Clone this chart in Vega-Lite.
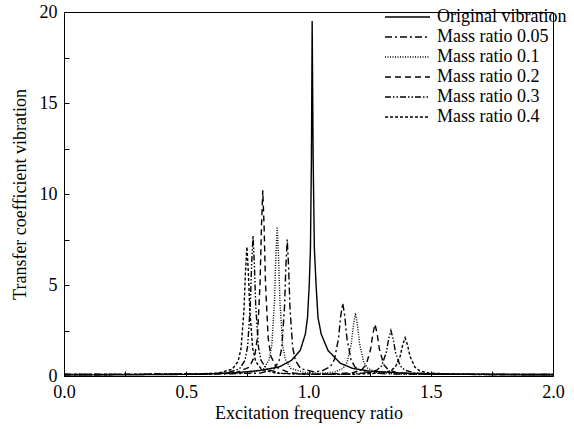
{
  "$schema": "https://vega.github.io/schema/vega-lite/v6.json",
  "width": 489,
  "height": 364,
  "autosize": {"type": "none"},
  "padding": {"left": 64, "top": 12, "right": 21, "bottom": 53},
  "background": "white",
  "config": {"view": {"stroke": "black", "strokeWidth": 1}, "font": "Liberation Serif"},
  "data": {"values": [
    {"s":"Original vibration","x":0,"y":0.06},{"s":"Original vibration","x":0.3,"y":0.07},{"s":"Original vibration","x":0.5,"y":0.09},{"s":"Original vibration","x":0.6,"y":0.12},{"s":"Original vibration","x":0.7,"y":0.18},{"s":"Original vibration","x":0.8,"y":0.3},{"s":"Original vibration","x":0.88,"y":0.5},{"s":"Original vibration","x":0.93,"y":0.85},{"s":"Original vibration","x":0.966,"y":1.4},{"s":"Original vibration","x":0.987,"y":2.3},{"s":"Original vibration","x":0.996,"y":3.2},{"s":"Original vibration","x":1.003,"y":5.0},{"s":"Original vibration","x":1.008,"y":7.0},{"s":"Original vibration","x":1.012,"y":12},{"s":"Original vibration","x":1.015,"y":19.5},{"s":"Original vibration","x":1.019,"y":12},{"s":"Original vibration","x":1.024,"y":7.0},{"s":"Original vibration","x":1.031,"y":5.0},{"s":"Original vibration","x":1.039,"y":3.2},{"s":"Original vibration","x":1.052,"y":2.3},{"s":"Original vibration","x":1.08,"y":1.4},{"s":"Original vibration","x":1.13,"y":0.7},{"s":"Original vibration","x":1.18,"y":0.42},{"s":"Original vibration","x":1.25,"y":0.27},{"s":"Original vibration","x":1.4,"y":0.15},{"s":"Original vibration","x":1.6,"y":0.1},{"s":"Original vibration","x":2.0,"y":0.06},

    {"s":"Mass ratio 0.05","x":0,"y":0.08},{"s":"Mass ratio 0.05","x":0.3,"y":0.09},{"s":"Mass ratio 0.05","x":0.5,"y":0.1},{"s":"Mass ratio 0.05","x":0.65,"y":0.12},{"s":"Mass ratio 0.05","x":0.803,"y":0.16},{"s":"Mass ratio 0.05","x":0.858,"y":0.38},{"s":"Mass ratio 0.05","x":0.88,"y":0.84},{"s":"Mass ratio 0.05","x":0.891,"y":1.58},{"s":"Mass ratio 0.05","x":0.902,"y":3.82},{"s":"Mass ratio 0.05","x":0.9075,"y":6.05},{"s":"Mass ratio 0.05","x":0.913,"y":7.5},{"s":"Mass ratio 0.05","x":0.9185,"y":6.05},{"s":"Mass ratio 0.05","x":0.924,"y":3.82},{"s":"Mass ratio 0.05","x":0.935,"y":1.6},{"s":"Mass ratio 0.05","x":0.946,"y":0.87},{"s":"Mass ratio 0.05","x":0.968,"y":0.4},{"s":"Mass ratio 0.05","x":1.023,"y":0.23},{"s":"Mass ratio 0.05","x":1.055,"y":0.28},{"s":"Mass ratio 0.05","x":1.089,"y":0.51},{"s":"Mass ratio 0.05","x":1.106,"y":0.9},{"s":"Mass ratio 0.05","x":1.123,"y":2.08},{"s":"Mass ratio 0.05","x":1.1315,"y":3.28},{"s":"Mass ratio 0.05","x":1.14,"y":4.0},{"s":"Mass ratio 0.05","x":1.1485,"y":3.28},{"s":"Mass ratio 0.05","x":1.157,"y":2.08},{"s":"Mass ratio 0.05","x":1.174,"y":0.88},{"s":"Mass ratio 0.05","x":1.191,"y":0.48},{"s":"Mass ratio 0.05","x":1.225,"y":0.23},{"s":"Mass ratio 0.05","x":1.31,"y":0.12},{"s":"Mass ratio 0.05","x":1.5,"y":0.09},{"s":"Mass ratio 0.05","x":2.0,"y":0.08},

    {"s":"Mass ratio 0.1","x":0,"y":0.08},{"s":"Mass ratio 0.1","x":0.3,"y":0.09},{"s":"Mass ratio 0.1","x":0.5,"y":0.1},{"s":"Mass ratio 0.1","x":0.65,"y":0.12},{"s":"Mass ratio 0.1","x":0.762,"y":0.16},{"s":"Mass ratio 0.1","x":0.817,"y":0.4},{"s":"Mass ratio 0.1","x":0.839,"y":0.9},{"s":"Mass ratio 0.1","x":0.85,"y":1.7},{"s":"Mass ratio 0.1","x":0.861,"y":4.15},{"s":"Mass ratio 0.1","x":0.8665,"y":6.58},{"s":"Mass ratio 0.1","x":0.872,"y":8.2},{"s":"Mass ratio 0.1","x":0.8775,"y":6.58},{"s":"Mass ratio 0.1","x":0.883,"y":4.15},{"s":"Mass ratio 0.1","x":0.894,"y":1.72},{"s":"Mass ratio 0.1","x":0.905,"y":0.91},{"s":"Mass ratio 0.1","x":0.927,"y":0.42},{"s":"Mass ratio 0.1","x":0.982,"y":0.2},{"s":"Mass ratio 0.1","x":1.04,"y":0.14},{"s":"Mass ratio 0.1","x":1.107,"y":0.21},{"s":"Mass ratio 0.1","x":1.141,"y":0.42},{"s":"Mass ratio 0.1","x":1.158,"y":0.75},{"s":"Mass ratio 0.1","x":1.175,"y":1.77},{"s":"Mass ratio 0.1","x":1.1835,"y":2.78},{"s":"Mass ratio 0.1","x":1.192,"y":3.45},{"s":"Mass ratio 0.1","x":1.2005,"y":2.78},{"s":"Mass ratio 0.1","x":1.209,"y":1.77},{"s":"Mass ratio 0.1","x":1.226,"y":0.75},{"s":"Mass ratio 0.1","x":1.243,"y":0.42},{"s":"Mass ratio 0.1","x":1.277,"y":0.21},{"s":"Mass ratio 0.1","x":1.362,"y":0.11},{"s":"Mass ratio 0.1","x":1.5,"y":0.09},{"s":"Mass ratio 0.1","x":2.0,"y":0.08},

    {"s":"Mass ratio 0.2","x":0,"y":0.08},{"s":"Mass ratio 0.2","x":0.3,"y":0.09},{"s":"Mass ratio 0.2","x":0.5,"y":0.1},{"s":"Mass ratio 0.2","x":0.62,"y":0.12},{"s":"Mass ratio 0.2","x":0.703,"y":0.18},{"s":"Mass ratio 0.2","x":0.758,"y":0.48},{"s":"Mass ratio 0.2","x":0.78,"y":1.1},{"s":"Mass ratio 0.2","x":0.791,"y":2.1},{"s":"Mass ratio 0.2","x":0.802,"y":5.15},{"s":"Mass ratio 0.2","x":0.8075,"y":8.18},{"s":"Mass ratio 0.2","x":0.813,"y":10.2},{"s":"Mass ratio 0.2","x":0.8185,"y":8.18},{"s":"Mass ratio 0.2","x":0.824,"y":5.15},{"s":"Mass ratio 0.2","x":0.835,"y":2.1},{"s":"Mass ratio 0.2","x":0.846,"y":1.1},{"s":"Mass ratio 0.2","x":0.868,"y":0.48},{"s":"Mass ratio 0.2","x":0.923,"y":0.18},{"s":"Mass ratio 0.2","x":1.0,"y":0.1},{"s":"Mass ratio 0.2","x":1.092,"y":0.11},{"s":"Mass ratio 0.2","x":1.182,"y":0.18},{"s":"Mass ratio 0.2","x":1.218,"y":0.35},{"s":"Mass ratio 0.2","x":1.236,"y":0.62},{"s":"Mass ratio 0.2","x":1.254,"y":1.47},{"s":"Mass ratio 0.2","x":1.263,"y":2.3},{"s":"Mass ratio 0.2","x":1.272,"y":2.85},{"s":"Mass ratio 0.2","x":1.281,"y":2.3},{"s":"Mass ratio 0.2","x":1.29,"y":1.47},{"s":"Mass ratio 0.2","x":1.308,"y":0.62},{"s":"Mass ratio 0.2","x":1.326,"y":0.35},{"s":"Mass ratio 0.2","x":1.362,"y":0.18},{"s":"Mass ratio 0.2","x":1.452,"y":0.11},{"s":"Mass ratio 0.2","x":1.6,"y":0.09},{"s":"Mass ratio 0.2","x":2.0,"y":0.08},

    {"s":"Mass ratio 0.3","x":0,"y":0.08},{"s":"Mass ratio 0.3","x":0.3,"y":0.09},{"s":"Mass ratio 0.3","x":0.5,"y":0.11},{"s":"Mass ratio 0.3","x":0.663,"y":0.15},{"s":"Mass ratio 0.3","x":0.718,"y":0.39},{"s":"Mass ratio 0.3","x":0.74,"y":0.85},{"s":"Mass ratio 0.3","x":0.751,"y":1.61},{"s":"Mass ratio 0.3","x":0.762,"y":3.9},{"s":"Mass ratio 0.3","x":0.7675,"y":6.16},{"s":"Mass ratio 0.3","x":0.773,"y":7.7},{"s":"Mass ratio 0.3","x":0.7785,"y":6.16},{"s":"Mass ratio 0.3","x":0.784,"y":3.9},{"s":"Mass ratio 0.3","x":0.795,"y":1.61},{"s":"Mass ratio 0.3","x":0.806,"y":0.85},{"s":"Mass ratio 0.3","x":0.828,"y":0.39},{"s":"Mass ratio 0.3","x":0.883,"y":0.15},{"s":"Mass ratio 0.3","x":1.0,"y":0.1},{"s":"Mass ratio 0.3","x":1.147,"y":0.1},{"s":"Mass ratio 0.3","x":1.242,"y":0.17},{"s":"Mass ratio 0.3","x":1.28,"y":0.32},{"s":"Mass ratio 0.3","x":1.299,"y":0.56},{"s":"Mass ratio 0.3","x":1.318,"y":1.29},{"s":"Mass ratio 0.3","x":1.3275,"y":2.02},{"s":"Mass ratio 0.3","x":1.337,"y":2.5},{"s":"Mass ratio 0.3","x":1.3465,"y":2.02},{"s":"Mass ratio 0.3","x":1.356,"y":1.29},{"s":"Mass ratio 0.3","x":1.375,"y":0.56},{"s":"Mass ratio 0.3","x":1.394,"y":0.32},{"s":"Mass ratio 0.3","x":1.432,"y":0.17},{"s":"Mass ratio 0.3","x":1.527,"y":0.1},{"s":"Mass ratio 0.3","x":1.7,"y":0.09},{"s":"Mass ratio 0.3","x":2.0,"y":0.08},

    {"s":"Mass ratio 0.4","x":0,"y":0.08},{"s":"Mass ratio 0.4","x":0.3,"y":0.09},{"s":"Mass ratio 0.4","x":0.5,"y":0.11},{"s":"Mass ratio 0.4","x":0.628,"y":0.15},{"s":"Mass ratio 0.4","x":0.688,"y":0.37},{"s":"Mass ratio 0.4","x":0.712,"y":0.8},{"s":"Mass ratio 0.4","x":0.724,"y":1.5},{"s":"Mass ratio 0.4","x":0.736,"y":3.6},{"s":"Mass ratio 0.4","x":0.742,"y":5.68},{"s":"Mass ratio 0.4","x":0.748,"y":7.1},{"s":"Mass ratio 0.4","x":0.754,"y":5.68},{"s":"Mass ratio 0.4","x":0.76,"y":3.6},{"s":"Mass ratio 0.4","x":0.772,"y":1.5},{"s":"Mass ratio 0.4","x":0.784,"y":0.8},{"s":"Mass ratio 0.4","x":0.808,"y":0.37},{"s":"Mass ratio 0.4","x":0.868,"y":0.15},{"s":"Mass ratio 0.4","x":1.0,"y":0.09},{"s":"Mass ratio 0.4","x":1.195,"y":0.1},{"s":"Mass ratio 0.4","x":1.295,"y":0.16},{"s":"Mass ratio 0.4","x":1.335,"y":0.28},{"s":"Mass ratio 0.4","x":1.355,"y":0.49},{"s":"Mass ratio 0.4","x":1.375,"y":1.09},{"s":"Mass ratio 0.4","x":1.385,"y":1.7},{"s":"Mass ratio 0.4","x":1.395,"y":2.1},{"s":"Mass ratio 0.4","x":1.405,"y":1.7},{"s":"Mass ratio 0.4","x":1.415,"y":1.09},{"s":"Mass ratio 0.4","x":1.435,"y":0.49},{"s":"Mass ratio 0.4","x":1.455,"y":0.28},{"s":"Mass ratio 0.4","x":1.495,"y":0.16},{"s":"Mass ratio 0.4","x":1.595,"y":0.1},{"s":"Mass ratio 0.4","x":1.8,"y":0.09},{"s":"Mass ratio 0.4","x":2.0,"y":0.08}
  ]},
  "mark": {"type": "line", "color": "black", "strokeWidth": 1.4, "clip": true},
  "encoding": {
    "x": {
      "field": "x", "type": "quantitative",
      "title": "Excitation frequency ratio",
      "scale": {"domain": [0, 2], "nice": false, "zero": false},
      "axis": {
        "values": [0, 0.25, 0.5, 0.75, 1, 1.25, 1.5, 1.75, 2],
        "labelExpr": "datum.value % 0.5 === 0 ? format(datum.value, '.1f') : ''",
        "grid": false, "tickSize": -5, "tickColor": "black", "domainColor": "black",
        "labelFont": "Liberation Serif", "labelFontSize": 18, "labelColor": "black", "labelPadding": 12,
        "labelFlush": false, "labelOverlap": false,
        "titleFont": "Liberation Serif", "titleFontSize": 18, "titleFontWeight": "normal", "titleColor": "black", "titlePadding": 3
      }
    },
    "y": {
      "field": "y", "type": "quantitative",
      "title": "Transfer coefficient vibration",
      "scale": {"domain": [0, 20], "nice": false},
      "axis": {
        "values": [0, 2.5, 5, 7.5, 10, 12.5, 15, 17.5, 20],
        "labelExpr": "datum.value % 5 === 0 ? format(datum.value, 'd') : ''",
        "grid": false, "tickSize": -5, "tickColor": "black", "domainColor": "black",
        "labelFont": "Liberation Serif", "labelFontSize": 18, "labelColor": "black", "labelPadding": 12,
        "labelFlush": false, "labelOverlap": false,
        "titleFont": "Liberation Serif", "titleFontSize": 18, "titleFontWeight": "normal", "titleColor": "black", "titlePadding": 10
      }
    },
    "strokeDash": {
      "field": "s", "type": "nominal",
      "scale": {
        "domain": ["Original vibration", "Mass ratio 0.05", "Mass ratio 0.1", "Mass ratio 0.2", "Mass ratio 0.3", "Mass ratio 0.4"],
        "range": [[1, 0], [7, 3, 2, 3], [1, 1.5], [6, 4], [6, 2, 1.5, 2, 1.5, 2], [3, 2]]
      },
      "legend": {
        "orient": "none", "legendX": 320, "legendY": -4, "title": null,
        "symbolType": "stroke", "symbolSize": 2025, "symbolStrokeWidth": 1.3, "symbolStrokeColor": "black",
        "labelFont": "Liberation Serif", "labelFontSize": 18, "labelColor": "black",
        "clipHeight": 18, "rowPadding": 2, "labelOffset": 6, "padding": 0
      }
    }
  }
}
